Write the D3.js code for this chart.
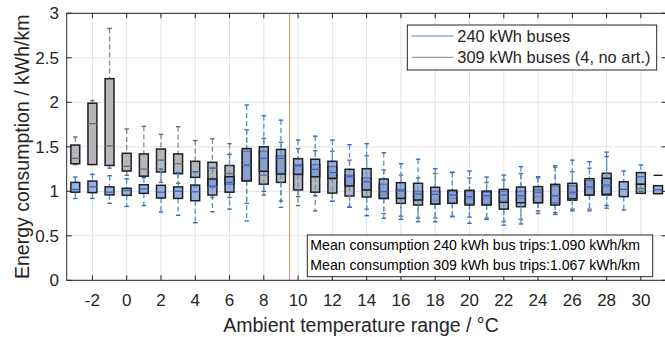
<!DOCTYPE html>
<html>
<head>
<meta charset="utf-8">
<script src="https://cdn.jsdelivr.net/npm/d3@7"></script>
<style>
  body { margin: 0; background: #fff; }
  svg text { font-family: "Liberation Sans", Arial, Helvetica, sans-serif; fill: #262626; }
</style>
</head>
<body>
<svg width="665" height="337"></svg>
<script>
/* ========================= Data ========================= */
// Temperature bins (°C), one box pair per bin
let categories = d3.range(-3, 32);

// [lower whisker, q1, median, q3, upper whisker] per bin, 240 kWh buses
let blueStats = [
  [0.92, 0.99, 1.02, 1.10, 1.16],   // -3
  [0.92, 0.985, 1.05, 1.115, 1.19], // -2
  [0.865, 0.96, 0.99, 1.05, 1.175], // -1
  [0.83, 0.955, 1.01, 1.034, 1.14], // 0
  [0.84, 0.977, 1.026, 1.074, 1.153],
  [0.767, 0.925, 0.99, 1.067, 1.25],
  [0.73, 0.92, 1.0, 1.05, 1.21],
  [0.647, 0.894, 0.995, 1.07, 1.22],
  [0.77, 0.958, 1.05, 1.138, 1.26],
  [0.80, 0.99, 1.10, 1.164, 1.415],
  [0.666, 1.116, 1.295, 1.48, 1.97],
  [1.0, 1.225, 1.37, 1.50, 1.85],
  [0.89, 1.194, 1.37, 1.47, 1.80],
  [0.94, 1.19, 1.284, 1.366, 1.576], // 10
  [0.95, 1.164, 1.247, 1.36, 1.62],
  [0.888, 1.146, 1.21, 1.337, 1.576],
  [0.82, 1.06, 1.164, 1.247, 1.524],
  [0.726, 1.015, 1.108, 1.254, 1.535],
  [0.697, 0.92, 0.996, 1.138, 1.434],
  [0.685, 0.92, 1.003, 1.097, 1.31],
  [0.658, 0.902, 0.97, 1.09, 1.36],
  [0.658, 0.857, 0.966, 1.045, 1.254],
  [0.715, 0.865, 0.958, 1.011, 1.213],
  [0.64, 0.846, 0.94, 1.011, 1.228], // 20
  [0.685, 0.846, 0.95, 1.003, 1.16],
  [0.62, 0.876, 0.958, 1.022, 1.183],
  [0.633, 0.872, 0.95, 1.048, 1.277],
  [0.78, 0.872, 0.99, 1.052, 1.164],
  [0.76, 0.846, 0.95, 1.078, 1.288],
  [0.78, 0.917, 0.99, 1.09, 1.35],
  [0.78, 0.958, 1.05, 1.142, 1.333],
  [0.84, 0.966, 1.07, 1.146, 1.39],
  [0.79, 0.94, 1.022, 1.108, 1.228],
  [1.0, 1.08, 1.164, 1.21, 1.295],   // 30
  [0.973, 0.973, 1.018, 1.063, 1.063]
];

// Same for 309 kWh buses (null = no trips in that bin)
let grayStats = [
  [1.30, 1.31, 1.37, 1.52, 1.61],   // -3
  [1.30, 1.30, 1.76, 1.99, 2.02],   // -2
  [1.26, 1.29, 1.51, 2.265, 2.83],  // -1
  [1.18, 1.228, 1.28, 1.427, 1.70], // 0
  [1.16, 1.17, 1.25, 1.42, 1.73],
  [1.10, 1.217, 1.35, 1.475, 1.64],
  [1.09, 1.198, 1.31, 1.42, 1.726],
  [1.05, 1.157, 1.22, 1.337, 1.57],
  [0.93, 1.06, 1.26, 1.326, 1.59],
  [0.93, 1.08, 1.20, 1.29, 1.535],
  [0.865, 1.12, 1.284, 1.45, 1.69],
  [0.958, 1.08, 1.18, 1.45, 1.595],
  [0.82, 1.10, 1.20, 1.40, 1.55],
  [0.84, 1.015, 1.19, 1.30, 1.48],  // 10
  [0.78, 0.99, 1.164, 1.30, 1.456],
  [0.888, 0.98, 1.138, 1.28, 1.45],
  [0.82, 0.947, 1.06, 1.18, 1.35],
  [0.80, 0.936, 1.015, 1.15, 1.40],
  [0.75, 0.92, 0.96, 1.08, 1.24],
  [0.72, 0.865, 0.92, 1.02, 1.183],
  [0.70, 0.846, 0.902, 1.0, 1.15],
  [0.70, 0.857, 0.90, 1.0, 1.20],
  [0.72, 0.865, 0.92, 1.0, 1.213],
  [0.71, 0.86, 0.92, 1.0, 1.15],     // 20
  [0.70, 0.85, 0.92, 0.99, 1.10],
  [0.66, 0.80, 0.90, 1.0, 1.127],
  [0.685, 0.827, 0.92, 1.0, 1.20],
  [0.75, 0.872, 0.94, 1.02, 1.15],
  [0.74, 0.87, 0.95, 1.06, 1.27],
  [0.80, 0.90, 0.97, 1.06, 1.22],
  [0.80, 0.96, 1.03, 1.12, 1.26],
  [0.81, 0.958, 1.05, 1.202, 1.44],
  null,
  [0.977, 0.977, 1.03, 1.08, 1.08],  // 30
  [1.18, 1.18, 1.18, 1.18, 1.18]
];

let xTicks = d3.range(-2, 31, 2);
let yTicks = [0, 0.5, 1, 1.5, 2, 2.5, 3];
let tempLimit = 9.5;   // vertical marker line
let legendLabels = ["240 kWh buses", "309 kWh buses (4, no art.)"];
let noteLines = [
  "Mean consumption 240 kWh bus trips:1.090 kWh/km",
  "Mean consumption 309 kWh bus trips:1.067 kWh/km"
];

/* ========================= Scales ========================= */
let svg = d3.select("svg");

let x = d3.scaleLinear().domain([-3.5, 31.5]).range([66.7, 666.6]);
let y = d3.scaleLinear().domain([0, 3]).range([280.3, 13.3]);

let plotL = x(-3.5), plotR = x(31.5), plotT = y(3), plotB = y(0);

// Gridlines
let grid = svg.append("g").attr("class", "grid");
grid.selectAll(".gx").data(xTicks).enter().append("line")
    .attr("x1", d => x(d)).attr("x2", d => x(d))
    .attr("y1", plotT).attr("y2", plotB)
    .attr("stroke", "#e3e3e3").attr("stroke-width", 1);
grid.selectAll(".gy").data(yTicks).enter().append("line")
    .attr("x1", plotL).attr("x2", plotR)
    .attr("y1", d => y(d)).attr("y2", d => y(d))
    .attr("stroke", "#e3e3e3").attr("stroke-width", 1);

// Temperature marker
svg.append("line")
    .attr("x1", x(tempLimit)).attr("x2", x(tempLimit))
    .attr("y1", plotT).attr("y2", plotB)
    .attr("stroke", "#d99a88").attr("stroke-width", 1.2);

/* ========================= Boxes ========================= */
let halfW = x(0.26) - x(0);
let capW = x(0.13) - x(0);

function drawSeries(stats, opt)
{
    let data = categories.map((c, i) => ({ c: c, s: stats[i] })).filter(d => d.s !== null);
    let g = svg.append("g");

    let grp = g.selectAll("g").data(data).enter().append("g");

    // whiskers (dashed)
    grp.append("line")
        .attr("x1", d => x(d.c)).attr("x2", d => x(d.c))
        .attr("y1", d => y(d.s[4])).attr("y2", d => y(d.s[3]))
        .attr("stroke", opt.whisker).attr("stroke-width", 1.3)
        .attr("stroke-dasharray", "5,3");
    grp.append("line")
        .attr("x1", d => x(d.c)).attr("x2", d => x(d.c))
        .attr("y1", d => y(d.s[1])).attr("y2", d => y(d.s[0]))
        .attr("stroke", opt.whisker).attr("stroke-width", 1.3)
        .attr("stroke-dasharray", "5,3");

    // caps
    [0, 4].forEach(k => {
        grp.filter(d => d.s[k] !== d.s[k === 0 ? 1 : 3]).append("line")
            .attr("x1", d => x(d.c) - capW).attr("x2", d => x(d.c) + capW)
            .attr("y1", d => y(d.s[k])).attr("y2", d => y(d.s[k]))
            .attr("stroke", opt.cap).attr("stroke-width", 1.4);
    });

    // box
    grp.filter(d => d.s[3] > d.s[1]).append("rect")
        .attr("x", d => x(d.c) - halfW)
        .attr("y", d => y(d.s[3]))
        .attr("width", halfW * 2)
        .attr("height", d => y(d.s[1]) - y(d.s[3]))
        .attr("fill", opt.fill).attr("fill-opacity", opt.opacity)
        .attr("stroke", "#1f1f24").attr("stroke-width", 1.5);

    // median
    grp.append("line")
        .attr("x1", d => x(d.c) - halfW).attr("x2", d => x(d.c) + halfW)
        .attr("y1", d => y(d.s[2])).attr("y2", d => y(d.s[2]))
        .attr("stroke", d => d.s[3] > d.s[1] ? opt.median : "#111")
        .attr("stroke-width", 1.3);
}

drawSeries(grayStats, { fill: "#a4a4aa", opacity: 0.8, whisker: "#8a8a8e", cap: "#6e6e72", median: "#6b6b70" });
drawSeries(blueStats, { fill: "#7b97d3", opacity: 0.75, whisker: "#5b8fcf", cap: "#2f6db8", median: "#2f6db8" });

/* ========================= Axes ========================= */
let axisColor = "#262626";
let frame = svg.append("g");

frame.append("rect")
    .attr("x", plotL).attr("y", plotT)
    .attr("width", plotR - plotL).attr("height", plotB - plotT)
    .attr("fill", "none").attr("stroke", axisColor).attr("stroke-width", 1);

// tick marks on all four sides
xTicks.forEach(t => {
    frame.append("line").attr("x1", x(t)).attr("x2", x(t))
        .attr("y1", plotB).attr("y2", plotB - 5).attr("stroke", axisColor);
    frame.append("line").attr("x1", x(t)).attr("x2", x(t))
        .attr("y1", plotT).attr("y2", plotT + 5).attr("stroke", axisColor);
});
yTicks.forEach(t => {
    frame.append("line").attr("x1", plotL).attr("x2", plotL + 5)
        .attr("y1", y(t)).attr("y2", y(t)).attr("stroke", axisColor);
    frame.append("line").attr("x1", plotR - 5).attr("x2", plotR)
        .attr("y1", y(t)).attr("y2", y(t)).attr("stroke", axisColor);
});

svg.append("g").selectAll("text").data(xTicks).enter().append("text")
    .attr("x", d => x(d)).attr("y", 305.5)
    .attr("text-anchor", "middle")
    .style("font-size", "17px")
    .text(d => d);

svg.append("g").selectAll("text").data(yTicks).enter().append("text")
    .attr("x", 59).attr("y", d => y(d) + 6)
    .attr("text-anchor", "end")
    .style("font-size", "17px")
    .text(d => d);

svg.append("text")
    .attr("x", 361).attr("y", 332)
    .attr("text-anchor", "middle")
    .style("font-size", "19.5px")
    .text("Ambient temperature range / °C");

svg.append("text")
    .attr("transform", "translate(29," + ((plotT + plotB) / 2) + ") rotate(-90)")
    .attr("text-anchor", "middle")
    .style("font-size", "19.5px")
    .text("Energy consumption / kWh/km");

/* ========================= Legend ========================= */
let legend = svg.append("g").attr("transform", "translate(407.3,25)");
legend.append("rect")
    .attr("width", 249.4).attr("height", 45)
    .attr("fill", "#fff").attr("stroke", axisColor).attr("stroke-width", 1);

let legendColors = ["#4a84c8", "#7a8594"];
legendLabels.forEach((lab, i) => {
    let ly = 11 + i * 21.3;
    legend.append("line")
        .attr("x1", 4.4).attr("x2", 46).attr("y1", ly).attr("y2", ly)
        .attr("stroke", legendColors[i]).attr("stroke-width", 1);
    legend.append("text")
        .attr("x", 50).attr("y", ly + 6)
        .style("font-size", "16.4px")
        .text(lab);
});

/* ========================= Note box ========================= */
let note = svg.append("g").attr("transform", "translate(307.3,235)");
note.append("rect")
    .attr("width", 345.4).attr("height", 41.7)
    .attr("fill", "#fff").attr("stroke", axisColor).attr("stroke-width", 1);
noteLines.forEach((t, i) => {
    note.append("text")
        .attr("x", 3).attr("y", 15 + i * 19.5)
        .style("font-size", "14.1px")
        .style("fill", "#000")
        .text(t);
});
</script>
</body>
</html>
